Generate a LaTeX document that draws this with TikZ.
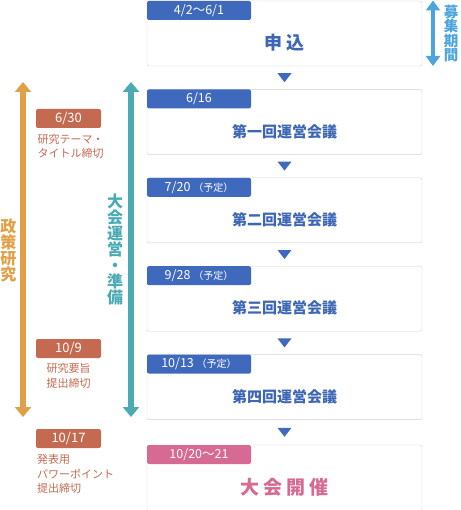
\documentclass[tikz,border=0pt]{standalone}
\usepackage{fontspec}
\setmainfont{Noto Sans CJK JP}
\usetikzlibrary{arrows.meta,positioning,calc}
\definecolor{FlowBlue}{HTML}{3F69BD}
\definecolor{FlowBlueText}{HTML}{3D67B5}
\definecolor{FlowPink}{HTML}{D66A93}
\definecolor{FlowGray}{HTML}{D2D2D2}
\definecolor{FlowSky}{HTML}{4BA5DD}
\definecolor{FlowOrange}{HTML}{E0A047}
\definecolor{FlowTeal}{HTML}{4AABB4}
\definecolor{FlowRust}{HTML}{C46A51}

\begin{document}
\begin{tikzpicture}[x=1pt,y=1pt,node distance=23pt]
    \tikzset{stagebox/.style={draw=FlowGray,fill=white,rounded corners=2pt,minimum width=275pt,minimum height=65pt,inner sep=0pt},
      datetag/.style={fill=FlowBlue,text=white,rounded corners=2pt,minimum width=104pt,minimum height=19pt,inner sep=0pt,anchor=north west,font=\fontsize{12.5}{13}\selectfont},
      stagetext/.style={text=FlowBlueText,font=\fontsize{15}{16}\selectfont\bfseries},
      deadtag/.style={fill=FlowRust,text=white,rounded corners=2pt,minimum width=65pt,minimum height=19pt,inner sep=0pt,font=\fontsize{13}{14}\selectfont},
      deadnote/.style={text=FlowRust,align=left,inner sep=0pt,font=\fontsize{11}{14.5}\selectfont},
      sidetext/.style={align=center,inner sep=0pt,font=\fontsize{16}{16}\selectfont\bfseries},
      spanarrow/.style={line width=5.5pt,{Triangle[width=16pt,length=10pt]}-{Triangle[width=16pt,length=10pt]}}}
    \useasboundingbox (0,0) rectangle (460,-510);
    % schedule column
    \node[stagebox] (s1) at (284.5,-33.5) {};
    \node[stagebox,below=of s1] (s2) {};
    \node[stagebox,below=of s2] (s3) {};
    \node[stagebox,below=of s3] (s4) {};
    \node[stagebox,below=of s4] (s5) {};
    \node[stagebox,below=25pt of s5,minimum height=66pt] (s6) {};
    \node[datetag] (d1) at (s1.north west) {4/2〜6/1};
    \node[datetag] (d2) at (s2.north west) {6/16};
    \node[datetag] (d3) at (s3.north west) {7/20 {\fontsize{10}{10}\selectfont（予定）}};
    \node[datetag] (d4) at (s4.north west) {9/28 {\fontsize{10}{10}\selectfont（予定）}};
    \node[datetag] (d5) at (s5.north west) {10/13 {\fontsize{10}{10}\selectfont（予定）}};
    \node[datetag,fill=FlowPink] (d6) at (s6.north west) {10/20〜21};
    \node[stagetext,font=\fontsize{18}{18}\selectfont\bfseries] (t1) at ([yshift=-9.5pt]s1.center) {申\hspace{4pt}込};
    \node[stagetext] (t2) at ([yshift=-9.5pt]s2.center) {第一回運営会議};
    \node[stagetext] (t3) at ([yshift=-9.5pt]s3.center) {第二回運営会議};
    \node[stagetext] (t4) at ([yshift=-9.5pt]s4.center) {第三回運営会議};
    \node[stagetext] (t5) at ([yshift=-9.5pt]s5.center) {第四回運営会議};
    \node[stagetext,text=FlowPink,font=\fontsize{19}{19}\selectfont\bfseries] (t6) at ([yshift=-9.5pt]s6.center) {大\hspace{4pt}会\hspace{4pt}開\hspace{4pt}催};
    \foreach \a/\b in {s1/s2,s2/s3,s3/s4,s4/s5,s5/s6}
      \fill[FlowBlue] ($(\a.south)!0.5!(\b.north)+(-7,4.5)$) -- ++(14,0) -- ++(-7,-9) -- cycle;
    % application period
    \coordinate (appTop) at (433,-0.5);
    \coordinate (appBot) at (433,-66);
    \draw[FlowSky,line width=4.5pt,{Triangle[width=14pt,length=10pt]}-{Triangle[width=14pt,length=10pt]}] (appTop) -- (appBot);
    \node[sidetext,text=FlowSky,font=\fontsize{14.5}{14.5}\selectfont\bfseries] (apptext) at (451,-33.5) {募\\集\\期\\間};
    % long spans on the left
    \coordinate (polTop) at (23,-82);
    \coordinate (polBot) at (23,-417);
    \coordinate (opsTop) at (131,-82);
    \coordinate (opsBot) at (131,-417);
    \draw[spanarrow,FlowOrange] (polTop) -- (polBot);
    \draw[spanarrow,FlowTeal] (opsTop) -- (opsBot);
    \node[sidetext,text=FlowOrange] (poltext) at (8.5,-250) {政\\策\\研\\究};
    \node[sidetext,text=FlowTeal] (opstext) at (115,-249) {大\\会\\運\\営\\・\\準\\備};
    % deadlines
    \node[deadtag] (k1) at (68.5,-118.5) {6/30};
    \node[deadnote,anchor=north west] (n1) at ([xshift=1.5pt,yshift=-5.5pt]k1.south west) {研究テーマ・\\タイトル締切};
    \node[deadtag] (k2) at (68.5,-348.5) {10/9};
    \node[deadnote,anchor=north] (n2) at ([yshift=-5pt]k2.south) {研究要旨\\提出締切};
    \node[deadtag] (k3) at (68.5,-438.5) {10/17};
    \node[deadnote,anchor=north west] (n3) at ([xshift=1pt,yshift=-6pt]k3.south west) {発表用\\パワーポイント\\提出締切};
\end{tikzpicture}
\end{document}
